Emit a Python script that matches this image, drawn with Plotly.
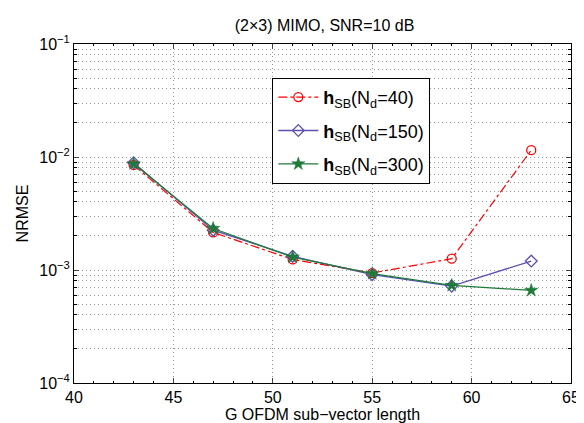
import plotly.graph_objects as go

g_len = [43, 47, 51, 55, 59, 63]
nrmse_nd40 = [8.5e-3, 2.15e-3, 1.24e-3, 0.94e-3, 1.26e-3, 1.15e-2]
nrmse_nd150 = [8.9e-3, 2.25e-3, 1.32e-3, 0.91e-3, 0.72e-3, 1.2e-3]
nrmse_nd300 = [8.7e-3, 2.33e-3, 1.30e-3, 0.93e-3, 0.73e-3, 0.66e-3]

x_ticks = [40, 45, 50, 55, 60, 65]
y_ticks = [1e-4, 1e-3, 1e-2, 1e-1]
y_ticktext = ["10<sup>\u22124</sup>", "10<sup>\u22123</sup>", "10<sup>\u22122</sup>", "10<sup>\u22121</sup>"]
y_minor = [k * 10.0 ** e for e in (-4, -3, -2) for k in range(2, 10)]

FONT = "Liberation Sans, Arial, Helvetica, sans-serif"

fig = go.Figure()
fig.add_trace(go.Scatter(
    x=g_len, y=nrmse_nd40, mode="lines+markers", legendgroup="a",
    name="<b>h</b><sub>SB</sub>(N<sub>d</sub>=40)",
    line=dict(color="#ff0000", width=1.2, dash="dashdot"),
    marker=dict(symbol="circle-open", size=9, color="#ff0000", line=dict(width=1.3)),
))
fig.add_trace(go.Scatter(
    x=g_len, y=nrmse_nd150, mode="lines+markers", legendgroup="b",
    name="<b>h</b><sub>SB</sub>(N<sub>d</sub>=150)",
    line=dict(color="#5b4fb0", width=1.3),
    marker=dict(symbol="diamond-open", size=9, color="#5b4fb0", line=dict(width=1.3)),
))
fig.add_trace(go.Scatter(
    x=g_len, y=nrmse_nd300, mode="lines+markers", legendgroup="c",
    name="<b>h</b><sub>SB</sub>(N<sub>d</sub>=300)",
    line=dict(color="#1f7a3a", width=1.3),
    marker=dict(symbol="star", size=10, color="#1f7a3a", line=dict(width=0.5, color="#1f7a3a")),
))

GRID = "#9a9a9a"

fig.update_layout(
    width=584, height=423,
    margin=dict(l=66, r=17, t=36, b=44),
    paper_bgcolor="white", plot_bgcolor="white",
    font=dict(family=FONT, size=16, color="black"),
    title=dict(text="(2\u00d73) MIMO, SNR=10 dB", x=0.542, xanchor="center",
               y=1 - 17 / 423, yanchor="middle", font=dict(size=16)),
    legend=dict(x=0.399, y=0.90, xanchor="left", yanchor="top",
                bgcolor="white", bordercolor="black", borderwidth=1,
                font=dict(size=18), tracegroupgap=7, itemwidth=40),
    showlegend=True,
)

fig.update_xaxes(
    range=[40, 65], tickvals=x_ticks, ticks="inside", ticklen=5,
    showline=True, linecolor="black", linewidth=1, mirror="allticks",
    showgrid=True, gridcolor=GRID, griddash="1px,3px", gridwidth=1,
    zeroline=False, tickfont=dict(size=16),
    minor=dict(dtick=1, ticks="inside", ticklen=2, tickcolor="black", showgrid=False),
    title=dict(text="G OFDM sub\u2212vector length", font=dict(size=16), standoff=2),
)
fig.update_yaxes(
    type="log", range=[-4, -1], tickvals=y_ticks, ticktext=y_ticktext,
    ticks="inside", ticklen=5,
    showline=True, linecolor="black", linewidth=1, mirror="allticks",
    showgrid=True, gridcolor=GRID, griddash="1px,3px", gridwidth=1,
    zeroline=False, tickfont=dict(size=16),
    minor=dict(tickvals=y_minor, ticks="inside", ticklen=3, tickcolor="black",
               showgrid=True, gridcolor=GRID, griddash="1px,3px", gridwidth=1),
    title=dict(text="NRMSE", font=dict(size=16), standoff=6),
)

fig.write_html("out.html")
